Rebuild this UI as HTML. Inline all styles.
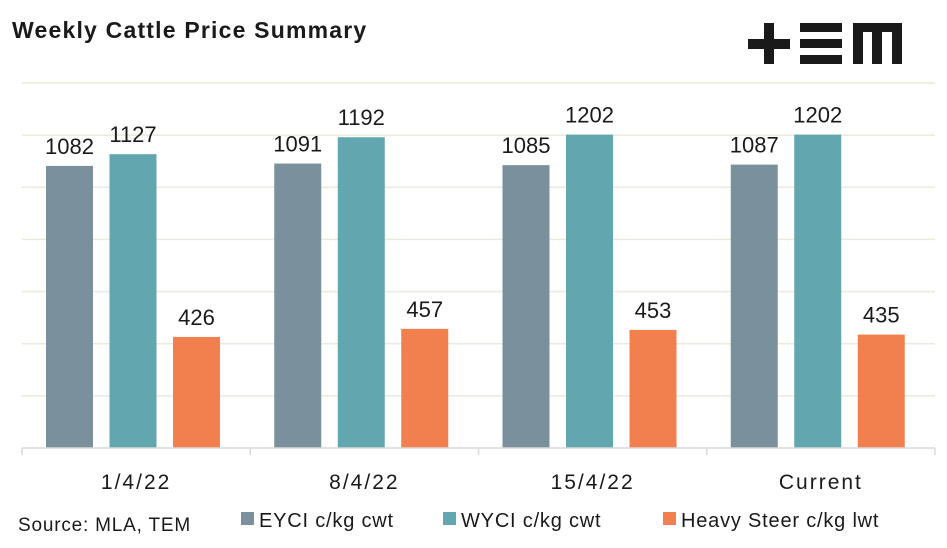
<!DOCTYPE html>
<html><head><meta charset="utf-8"><style>
body{margin:0;background:#fff;font-family:"Liberation Sans",sans-serif}
svg text{font-family:"Liberation Sans",sans-serif}
</style></head><body>
<svg width="947" height="543" viewBox="0 0 947 543">
<text x="12" y="38" font-size="23" font-weight="bold" letter-spacing="1.2" fill="#1a1a1a">Weekly Cattle Price Summary</text>
<g fill="#1a1a1a">
<rect x="748" y="39" width="42" height="10"/><rect x="764" y="23" width="10" height="41"/>
<rect x="800" y="23" width="42" height="9"/><rect x="800" y="39" width="42" height="9"/><rect x="800" y="55" width="42" height="9"/>
<rect x="853" y="23" width="49" height="9"/><rect x="853" y="23" width="10" height="41"/><rect x="872" y="23" width="10" height="41"/><rect x="892" y="23" width="10" height="41"/>
</g>
<g id="grid"></g><g id="bars"></g><g id="axis"></g>
<text x="18" y="531" font-size="19" letter-spacing="0.8" fill="#1a1a1a">Source: MLA, TEM</text>
<g id="legend"></g>
</svg>
<script>
const categories=["1/4/22","8/4/22","15/4/22","Current"];
const eyci=[1082,1091,1085,1087];
const wyci=[1127,1192,1202,1202];
const heavy=[426,457,453,435];
const seriesNames=["EYCI c/kg cwt","WYCI c/kg cwt","Heavy Steer c/kg lwt"];
const yTicks=[200,400,600,800,1000,1200,1400];
const colors=["#7a909d","#62a6af","#f2804f"];
const NS="http://www.w3.org/2000/svg";
const x0=22,x1=935,base=448,yMax=1400,yTop=83;
const yScale=v=>base-(v/yMax)*(base-yTop);
const cw=(x1-x0)/categories.length;
function el(t,a,p){const e=document.createElementNS(NS,t);for(const k in a)e.setAttribute(k,a[k]);p.appendChild(e);return e;}
const g=document.getElementById('grid');
yTicks.forEach(v=>{const l=el('line',{x1:x0,x2:x1,y1:yScale(v),y2:yScale(v),stroke:'#ebeadc','stroke-width':1.5},g);

});
const b=document.getElementById('bars');
const series=[eyci,wyci,heavy];
categories.forEach((c,i)=>{
 series.forEach((s,j)=>{
  const bx=x0+i*cw+24+j*63.5;
  const r=el('rect',{x:bx,y:yScale(s[i]),width:47,height:base-yScale(s[i]),fill:colors[j]},b);
  
  
  const t=el('text',{x:bx+23.5,y:yScale(s[i])-12,'font-size':22,'text-anchor':'middle',fill:'#1a1a1a'},b);
  t.textContent=s[i];
  
  
 });
});
const a=document.getElementById('axis');
el('line',{x1:x0,x2:x1,y1:base,y2:base,stroke:'#d9d9d9','stroke-width':1.5},a);
for(let i=0;i<=categories.length;i++)el('line',{x1:x0+i*cw,x2:x0+i*cw,y1:base,y2:base+7,stroke:'#d9d9d9','stroke-width':1.5},a);
categories.forEach((c,i)=>{const t=el('text',{x:x0+(i+0.5)*cw,y:489,'font-size':21,'letter-spacing':2,'text-anchor':'middle',fill:'#1a1a1a'},a);t.textContent=c;

});
const lg=document.getElementById('legend');
const lx=[241,443,663];
seriesNames.forEach((n,j)=>{
 const gg=el('g',{},lg);
 
 
 el('rect',{x:lx[j],y:512,width:13,height:13,fill:colors[j]},gg);
 const t=el('text',{x:lx[j]+18,y:527,'font-size':20,'letter-spacing':0.8,fill:'#1a1a1a'},gg);t.textContent=n;
});
</script>
</body></html>
